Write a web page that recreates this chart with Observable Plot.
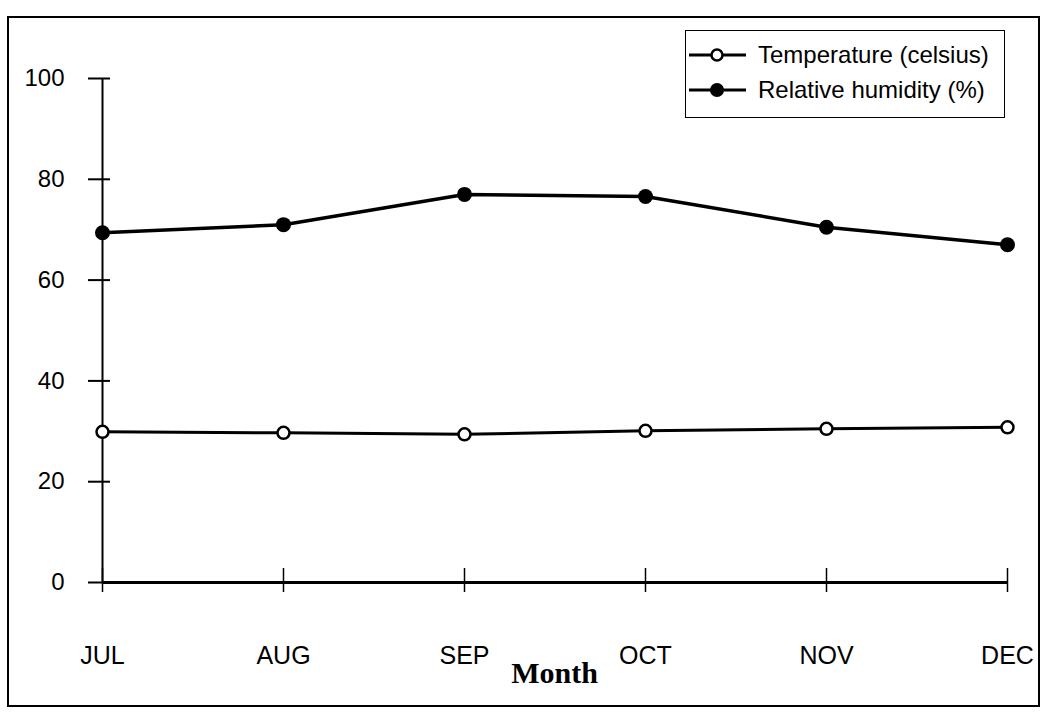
<!DOCTYPE html>
<html>
<head>
<meta charset="utf-8">
<script src="https://cdn.jsdelivr.net/npm/d3@7"></script>
<script src="https://cdn.jsdelivr.net/npm/@observablehq/plot@0.6"></script>
<style>
  html, body { margin: 0; padding: 0; background: #fff; }
  #wrap { position: relative; width: 1049px; height: 726px; overflow: hidden; background: #fff; }
  #wrap > svg { position: absolute; left: 0; top: 0; }
  #border { position: absolute; left: 7px; top: 16px; width: 1033px; height: 691px; border: 2px solid #000; box-sizing: border-box; pointer-events: none; }
  #legend { position: absolute; left: 685px; top: 30px; width: 320px; height: 88px; border: 1.5px solid #000; box-sizing: border-box; background: #fff; }
</style>
</head>
<body>
<div id="wrap">
  <div id="border"></div>
  <div id="legend"></div>
</div>
<script>
// ---- data ----
const months = ["JUL", "AUG", "SEP", "OCT", "NOV", "DEC"];
const temperature = [29.9, 29.7, 29.4, 30.1, 30.5, 30.8];
const humidity = [69.4, 71.0, 77.0, 76.6, 70.5, 67.0];
const yTicks = [0, 20, 40, 60, 80, 100];
const seriesNames = ["Temperature (celsius)", "Relative humidity (%)"];
const xLabel = "Month";

const tempData = months.map((m, i) => ({month: m, value: temperature[i]}));
const humData = months.map((m, i) => ({month: m, value: humidity[i]}));

const sans = "'Liberation Sans', Arial, Helvetica, sans-serif";
const serif = "'Liberation Serif', 'Times New Roman', serif";

const chart = Plot.plot({
  width: 1049,
  height: 726,
  marginLeft: 100,
  marginRight: 41,
  marginTop: 78,
  marginBottom: 144,
  style: {background: "transparent", fontFamily: sans, color: "#000", overflow: "visible"},
  x: {type: "point", domain: months, padding: 0, label: null},
  y: {domain: [0, 100], label: null},
  marks: [
    // y axis: ticks crossing the axis line, labels on the left
    Plot.axisY({ticks: yTicks, tickSize: 22, dx: 10, text: null, strokeWidth: 2, label: null}),
    Plot.axisY({ticks: yTicks, tickSize: 0, tickPadding: 36, fontSize: 24, label: null, tickFormat: d => String(d)}),
    // x axis: ticks crossing the axis line, labels far below
    Plot.axisX({tickSize: 24, dy: -14, text: null, strokeWidth: 1.5, label: null}),
    Plot.axisX({tickSize: 0, tickPadding: 64, fontSize: 25, label: null}),
    // axis lines
    Plot.ruleX([months[0]], {y1: () => 0, y2: () => 100, stroke: "#000", strokeWidth: 2}),
    Plot.ruleY([0], {x1: () => months[0], x2: () => months[months.length - 1], stroke: "#000", strokeWidth: 3}),
    // series
    Plot.line(humData, {x: "month", y: "value", stroke: "#000", strokeWidth: 3.5}),
    Plot.dot(humData, {x: "month", y: "value", r: 7.5, fill: "#000", stroke: "none"}),
    Plot.line(tempData, {x: "month", y: "value", stroke: "#000", strokeWidth: 3}),
    Plot.dot(tempData, {x: "month", y: "value", r: 6, fill: "#fff", stroke: "#000", strokeWidth: 2.5}),
    // x axis title
    Plot.text([xLabel], {text: d => d, frameAnchor: "bottom", dy: 100, fontSize: 30, fontWeight: "bold", fontFamily: serif, fill: "#000"})
  ]
});

const wrap = document.getElementById("wrap");
wrap.insertBefore(chart, wrap.firstChild);

// ---- legend ----
const lg = d3.select("#legend").append("svg")
  .attr("width", 317).attr("height", 85)
  .style("position", "absolute").style("left", "0px").style("top", "0px")
  .style("font-family", sans);
const rowY = [24, 59];
seriesNames.forEach((name, i) => {
  const g = lg.append("g").attr("transform", `translate(0,${rowY[i]})`);
  g.append("line").attr("x1", 3).attr("x2", 60).attr("y1", 0).attr("y2", 0)
    .attr("stroke", "#000").attr("stroke-width", 3);
  g.append("circle").attr("cx", 31).attr("cy", 0).attr("r", i === 0 ? 5.5 : 7)
    .attr("fill", i === 0 ? "#fff" : "#000").attr("stroke", "#000").attr("stroke-width", i === 0 ? 2.5 : 0);
  g.append("text").attr("x", 72).attr("y", 0).attr("dy", "0.35em")
    .attr("font-size", 24).attr("fill", "#000").text(name);
});
</script>
</body>
</html>
